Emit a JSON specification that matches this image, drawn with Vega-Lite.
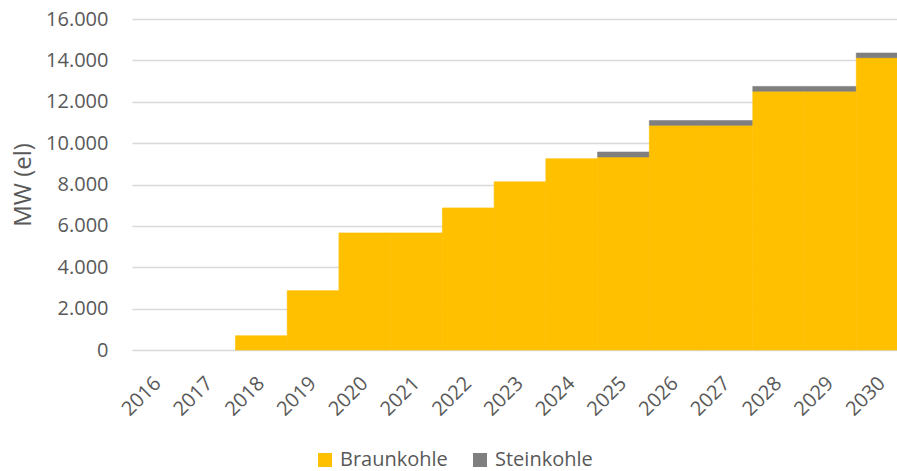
{
  "$schema": "https://vega.github.io/schema/vega-lite/v6.json",
  "width": 776,
  "height": 331,
  "autosize": {"type": "none"},
  "padding": {"left": 132, "top": 19, "right": -11, "bottom": 121},
  "background": "white",
  "config": {
    "view": {"stroke": null},
    "font": "Open Sans"
  },
  "data": {
    "values": [
      {"year": "2016", "type": "Braunkohle", "mw": 0},
      {"year": "2017", "type": "Braunkohle", "mw": 0},
      {"year": "2018", "type": "Braunkohle", "mw": 690},
      {"year": "2019", "type": "Braunkohle", "mw": 2870},
      {"year": "2020", "type": "Braunkohle", "mw": 5660},
      {"year": "2021", "type": "Braunkohle", "mw": 5660},
      {"year": "2022", "type": "Braunkohle", "mw": 6870},
      {"year": "2023", "type": "Braunkohle", "mw": 8130},
      {"year": "2024", "type": "Braunkohle", "mw": 9250},
      {"year": "2025", "type": "Braunkohle", "mw": 9330},
      {"year": "2025", "type": "Steinkohle", "mw": 240},
      {"year": "2026", "type": "Braunkohle", "mw": 10860},
      {"year": "2026", "type": "Steinkohle", "mw": 230},
      {"year": "2027", "type": "Braunkohle", "mw": 10860},
      {"year": "2027", "type": "Steinkohle", "mw": 230},
      {"year": "2028", "type": "Braunkohle", "mw": 12510},
      {"year": "2028", "type": "Steinkohle", "mw": 230},
      {"year": "2029", "type": "Braunkohle", "mw": 12510},
      {"year": "2029", "type": "Steinkohle", "mw": 230},
      {"year": "2030", "type": "Braunkohle", "mw": 14130},
      {"year": "2030", "type": "Steinkohle", "mw": 225}
    ]
  },
  "mark": {"type": "bar"},
  "encoding": {
    "x": {
      "field": "year",
      "type": "ordinal",
      "scale": {"paddingInner": 0, "paddingOuter": 0},
      "axis": {
        "title": null,
        "labelAngle": -45,
        "labelAlign": "right",
        "labelBaseline": "middle",
        "labelFontSize": 20,
        "labelColor": "#595959",
        "labelPadding": 30,
        "ticks": false,
        "domain": false,
        "grid": false
      }
    },
    "y": {
      "field": "mw",
      "type": "quantitative",
      "stack": "zero",
      "scale": {"domain": [0, 16000], "nice": false},
      "axis": {
        "title": "MW (el)",
        "titleFontSize": 24,
        "titleFontWeight": "normal",
        "titleColor": "#595959",
        "titlePadding": 10,
        "values": [0, 2000, 4000, 6000, 8000, 10000, 12000, 14000, 16000],
        "labelExpr": "replace(format(datum.value, ','), ',', '.')",
        "labelFontSize": 20,
        "labelColor": "#595959",
        "labelPadding": 24,
        "ticks": false,
        "domain": false,
        "grid": true,
        "gridColor": "#d9d9d9",
        "gridWidth": 1.3
      }
    },
    "order": {"field": "type", "sort": "ascending"},
    "strokeWidth": {"condition": {"test": "datum.mw == 0", "value": 0}, "value": 0.6},
    "stroke": {
      "field": "type",
      "type": "nominal",
      "scale": {"domain": ["Braunkohle", "Steinkohle"], "range": ["#FFC000", "#7F7F7F"]},
      "legend": null
    },
    "color": {
      "field": "type",
      "type": "nominal",
      "scale": {"domain": ["Braunkohle", "Steinkohle"], "range": ["#FFC000", "#7F7F7F"]},
      "legend": {
        "title": null,
        "orient": "none",
        "direction": "horizontal",
        "legendX": 183,
        "legendY": 431,
        "symbolType": "square",
        "symbolSize": 196,
        "symbolStrokeWidth": 0,
        "symbolOpacity": 1,
        "labelFontSize": 20,
        "labelColor": "#595959",
        "labelOffset": 5,
        "columnPadding": 22,
        "padding": 0
      }
    }
  }
}
